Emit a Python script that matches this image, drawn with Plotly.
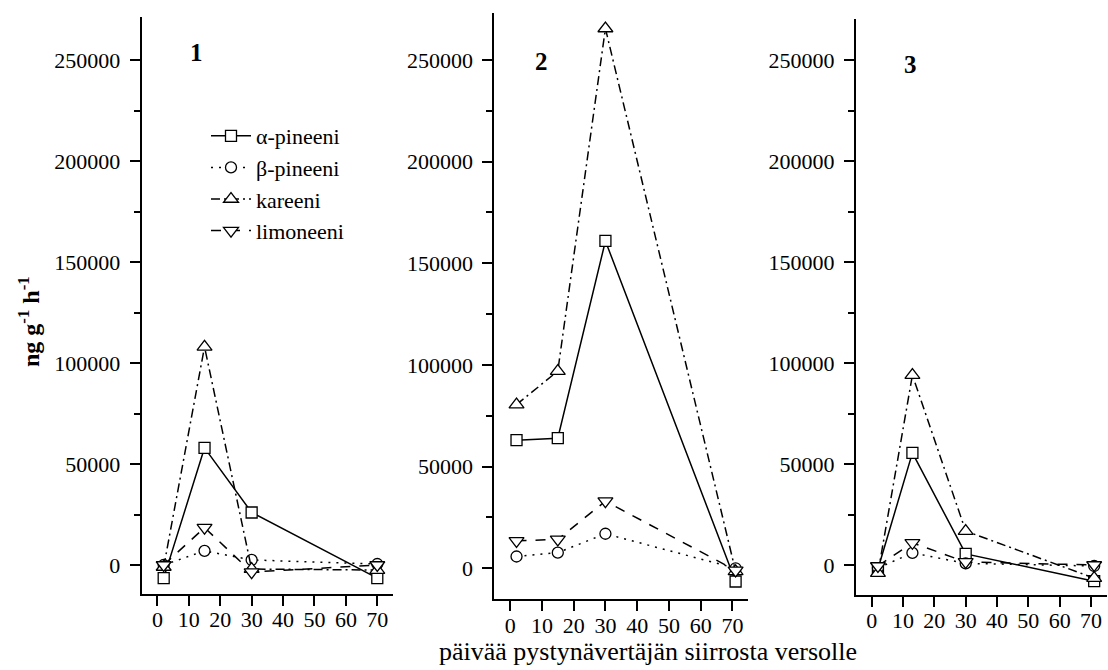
import plotly.graph_objects as go

# ---- data ----
days1 = [2, 15, 30, 70]
days2 = [2, 15, 30, 71]
days3 = [2, 13, 30, 71]

alpha1 = [-6500, 58000, 26000, -6500]
beta1 = [0, 7000, 2500, 500]
kar1 = [-1000, 108000, -2000, -2500]
lim1 = [0, 18500, -3500, 0]

alpha2 = [63000, 64000, 161000, -6500]
beta2 = [5800, 7700, 17000, 0]
kar2 = [80500, 97000, 265500, -1500]
lim2 = [13500, 14200, 33000, -1000]

alpha3 = [-2000, 55500, 5500, -8000]
beta3 = [-1500, 6000, 800, -500]
kar3 = [-4000, 94000, 16800, -6500]
lim3 = [-500, 11000, 1500, 0]

series_names = ["α-pineeni", "β-pineeni", "kareeni", "limoneeni"]
panel_labels = ["1", "2", "3"]
x_ticks = [0, 10, 20, 30, 40, 50, 60, 70]
y_major_step = 50000
y_minor_step = 25000
x_title = "päivää pystynävertäjän siirrosta versolle"
y_title = "ng g<sup>-1</sup> h<sup>-1</sup>"

W, H = 1108, 670
FONT = "Liberation Serif"

styles = [
    dict(symbol="square", dash="solid", size=11),
    dict(symbol="circle", dash="2px,6px", size=11),
    dict(symbol="triangle-up", dash="9px,4px,2px,4px", size=13),
    dict(symbol="triangle-down", dash="10px,9px", size=13),
]

panels = [
    (days1, [alpha1, beta1, kar1, lim1]),
    (days2, [alpha2, beta2, kar2, lim2]),
    (days3, [alpha3, beta3, kar3, lim3]),
]

# pixel geometry of plot areas: (left, right, top, bottom)
geom = [
    (141.7, 393.0, 17.0, 594.0),
    (494.3, 748.3, 13.0, 599.3),
    (856.0, 1106.7, 19.0, 595.0),
]
yranges = [
    [-14356, 271287],
    [-15247, 273118],
    [-14851, 270297],
]

fig = go.Figure()

for i, (days, vals) in enumerate(panels):
    ax = "" if i == 0 else str(i + 1)
    for j, v in enumerate(vals):
        st = styles[j]
        fig.add_trace(go.Scatter(
            x=days, y=v, mode="lines+markers",
            name=series_names[j],
            showlegend=(i == 0),
            xaxis="x" + ax, yaxis="y" + ax,
            line=dict(color="black", width=1.5, dash=st["dash"]),
            marker=dict(symbol=st["symbol"], size=st["size"], color="white",
                        line=dict(color="black", width=1.3)),
            cliponaxis=False,
        ))

layout = dict(
    width=W, height=H,
    margin=dict(l=0, r=0, t=0, b=0),
    paper_bgcolor="white", plot_bgcolor="white",
    font=dict(family=FONT, size=22, color="black"),
    legend=dict(
        x=206 / W, y=1 - 115 / H, xanchor="left", yanchor="top",
        bgcolor="rgba(0,0,0,0)", font=dict(family=FONT, size=22),
        itemwidth=40, tracegroupgap=0,
    ),
)

for i, (l, r, t, b) in enumerate(geom):
    sfx = "" if i == 0 else str(i + 1)
    layout["xaxis" + sfx] = dict(
        domain=[l / W, r / W], range=[-5, 75],
        anchor="y" + sfx,
        tickmode="array", tickvals=x_ticks,
        ticks="outside", ticklen=10, tickwidth=2,
        tickcolor="black", showline=True, linecolor="black", linewidth=2,
        showgrid=False, zeroline=False,
        tickfont=dict(family=FONT, size=22), ticklabelstandoff=-5,
    )
    layout["yaxis" + sfx] = dict(
        domain=[1 - b / H, 1 - t / H], range=yranges[i],
        anchor="x" + sfx,
        tickmode="linear", tick0=0, dtick=y_major_step,
        tickformat="d",
        ticks="outside", ticklen=10, tickwidth=2,
        tickcolor="black", showline=True, linecolor="black", linewidth=2,
        showgrid=False, zeroline=False,
        minor=dict(tickmode="linear", tick0=0, dtick=y_minor_step,
                   ticks="outside", ticklen=6, tickwidth=2, tickcolor="black",
                   showgrid=False),
        tickfont=dict(family=FONT, size=22), ticklabelstandoff=5,
    )

fig.update_layout(**layout)

# panel numbers
label_pos = [(196, 52), (541, 61), (910, 65)]
for lab, (px, py) in zip(panel_labels, label_pos):
    fig.add_annotation(x=px / W, y=1 - py / H, xref="paper", yref="paper",
                       xanchor="center", yanchor="middle",
                       text="<b>" + lab + "</b>", showarrow=False,
                       font=dict(family=FONT, size=25, color="black"))

# axis titles
fig.add_annotation(x=648 / W, y=1 - 651 / H, xref="paper", yref="paper",
                   xanchor="center", yanchor="middle",
                   text=x_title, showarrow=False,
                   font=dict(family=FONT, size=26, color="black"))
fig.add_annotation(x=29 / W, y=1 - 322 / H, xref="paper", yref="paper",
                   xanchor="center", yanchor="middle",
                   text="<b>" + y_title + "</b>", showarrow=False, textangle=-90,
                   font=dict(family=FONT, size=24, color="black"))

fig.write_html("out.html")
